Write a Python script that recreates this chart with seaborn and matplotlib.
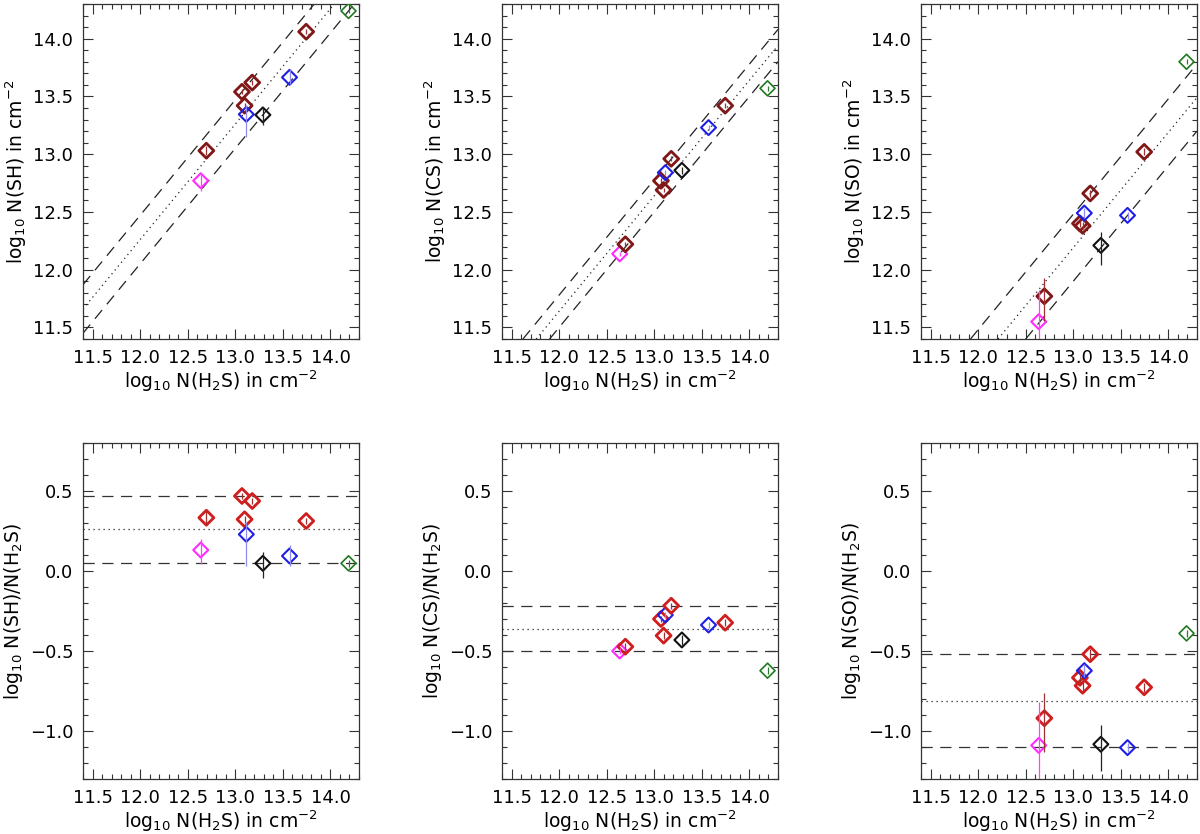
import numpy as np
import pandas as pd
import matplotlib
matplotlib.use("Agg")
import matplotlib.pyplot as plt
from matplotlib.ticker import MultipleLocator, FuncFormatter
import seaborn as sns

sns.set_style("ticks")
plt.rcParams['font.family'] = ['DejaVu Sans']
plt.rcParams['mathtext.fontset'] = 'dejavusans'
plt.rcParams['text.color'] = 'black'
plt.rcParams['axes.labelcolor'] = 'black'
plt.rcParams['xtick.color'] = 'black'
plt.rcParams['ytick.color'] = 'black'

# ---- data ----
groups = ["magenta", "red", "red", "red", "blue", "red", "black", "blue", "red", "green"]
h2s = [12.637, 12.696, 13.070, 13.098, 13.116, 13.178, 13.290, 13.570, 13.745, 14.190]

n_sh = [12.77, 13.03, 13.54, 13.42, 13.345, 13.62, 13.34, 13.665, 14.06, 14.24]
n_cs = [12.137, 12.22, 12.77, 12.69, 12.84, 12.96, 12.86, 13.23, 13.42, 13.57]
n_so = [11.55, 11.77, 12.40, 12.38, 12.49, 12.66, 12.21, 12.47, 13.02, 13.80]

r_sh = [0.131, 0.333, 0.469, 0.323, 0.229, 0.4375, 0.048, 0.094, 0.3125, 0.048]
r_cs = [-0.500, -0.473, -0.300, -0.404, -0.275, -0.217, -0.431, -0.3375, -0.323, -0.623]
r_so = [-1.090, -0.920, -0.667, -0.717, -0.623, -0.520, -1.083, -1.104, -0.727, -0.390]

# asymmetric errors (lower, upper)
err_sh_lo = [0.09, 0.04, 0.02, 0.02, 0.20, 0.02, 0.09, 0.06, 0.02, 0.02]
err_sh_hi = [0.07, 0.04, 0.02, 0.02, 0.08, 0.02, 0.07, 0.07, 0.02, 0.02]
err_cs_lo = [0.02, 0.02, 0.02, 0.02, 0.02, 0.02, 0.03, 0.02, 0.02, 0.02]
err_cs_hi = [0.02, 0.02, 0.02, 0.02, 0.02, 0.02, 0.03, 0.02, 0.02, 0.02]
err_so_lo = [0.40, 0.21, 0.03, 0.03, 0.04, 0.03, 0.17, 0.03, 0.03, 0.02]
err_so_hi = [0.27, 0.155, 0.03, 0.03, 0.04, 0.03, 0.12, 0.03, 0.03, 0.02]

# fit: mean ratio and scatter
fit_mean = [0.26, -0.36, -0.81]
fit_scatter = [0.21, 0.14, 0.29]

species = ["SH", "CS", "SO"]

palette_top = {"magenta": "#FF2BFF", "red": "#801818", "blue": "#1E1EE6",
               "black": "#111111", "green": "#1F7A1F"}
palette_bot = {"magenta": "#FF2BFF", "red": "#D01E1E", "blue": "#1E1EE6",
               "black": "#111111", "green": "#1F7A1F"}
err_colors = {"magenta": "#FF40FF", "red": "#A03030", "blue": "#8C8CF5",
              "black": "#222222", "green": "#2A7A2A"}

W, H = 1200, 834
fig = plt.figure(figsize=(W / 100, H / 100), dpi=100)

col_left = [83, 502, 921]
ax_w = 276
rows = [(4, 339), (443, 779)]

tops = [n_sh, n_cs, n_so]
rats = [r_sh, r_cs, r_so]
errs_lo = [err_sh_lo, err_cs_lo, err_so_lo]
errs_hi = [err_sh_hi, err_cs_hi, err_so_hi]

fmt = FuncFormatter(lambda v, p: ("%.1f" % v).replace("-", "\u2212"))


def style_axis(ax, ylim, ymajor):
    ax.set_xlim(11.4, 14.3)
    ax.set_ylim(*ylim)
    ax.xaxis.set_major_locator(MultipleLocator(0.5))
    ax.xaxis.set_minor_locator(MultipleLocator(0.1))
    ax.yaxis.set_major_locator(MultipleLocator(ymajor))
    ax.yaxis.set_minor_locator(MultipleLocator(0.1))
    ax.xaxis.set_major_formatter(fmt)
    ax.yaxis.set_major_formatter(fmt)
    ax.tick_params(which='both', direction='in', top=True, right=True,
                   color='#333333', width=0.8)
    ax.tick_params(which='major', length=7, labelsize=13, pad=7)
    ax.tick_params(which='minor', length=3.5)
    for s in ax.spines.values():
        s.set_linewidth(0.9)
        s.set_color('#333333')


def draw_points(ax, x, y, lo, hi, palette, lw):
    df = pd.DataFrame({"x": x, "y": y, "group": groups})
    for i in range(len(x)):
        ax.errorbar(x[i], y[i], yerr=[[lo[i]], [hi[i]]], fmt='none',
                    ecolor=err_colors[groups[i]], elinewidth=0.9, capsize=0,
                    zorder=4)
    sns.scatterplot(data=df, x="x", y="y", hue="group", palette=palette,
                    marker="D", s=58, linewidth=0, legend=False, ax=ax,
                    zorder=3)
    coll = ax.collections[-1]
    fc = coll.get_facecolors()
    coll.set_edgecolors(fc)
    coll.set_facecolors('none')
    lws = [lw * (1.35 if g == "red" else (0.8 if g == "green" else 1.0)) for g in groups]
    coll.set_linewidths(lws)


for j in range(3):
    # top row
    t, b = rows[0]
    ax = fig.add_axes([col_left[j] / W, (H - b) / H, ax_w / W, (b - t) / H])
    m, s = fit_mean[j], fit_scatter[j]
    ax.axline((0, m), slope=1, color='#222222', lw=0.9, linestyle=(0, (1, 3)))
    ax.axline((0, m + s), slope=1, color='#222222', lw=0.9, linestyle=(0, (9, 6)))
    ax.axline((0, m - s), slope=1, color='#222222', lw=0.9, linestyle=(0, (9, 6)))
    draw_points(ax, h2s, tops[j], errs_lo[j], errs_hi[j], palette_top, 1.5)
    style_axis(ax, (11.4, 14.3), 0.5)
    ax.set_xlabel(r"log$_{10}$ N(H$_2$S) in cm$^{-2}$", fontsize=13.5, labelpad=1)
    ax.set_ylabel(r"log$_{10}$ N(%s) in cm$^{-2}$" % species[j], fontsize=13.5, labelpad=3)

    # bottom row
    t, b = rows[1]
    ax = fig.add_axes([col_left[j] / W, (H - b) / H, ax_w / W, (b - t) / H])
    ax.axhline(m, color='#222222', lw=0.9, linestyle=(0, (1, 3)))
    ax.axhline(m + s, color='#333333', lw=0.9, linestyle=(0, (9, 6)))
    ax.axhline(m - s, color='#333333', lw=0.9, linestyle=(0, (9, 6)))
    draw_points(ax, h2s, rats[j], errs_lo[j], errs_hi[j], palette_bot, 1.5)
    style_axis(ax, (-1.3, 0.8), 0.5)
    ax.set_xlabel(r"log$_{10}$ N(H$_2$S) in cm$^{-2}$", fontsize=13.5, labelpad=1)
    ax.set_ylabel(r"log$_{10}$ N(%s)/N(H$_2$S)" % species[j], fontsize=13.5, labelpad=3)

fig.savefig("out.png", dpi=100)
